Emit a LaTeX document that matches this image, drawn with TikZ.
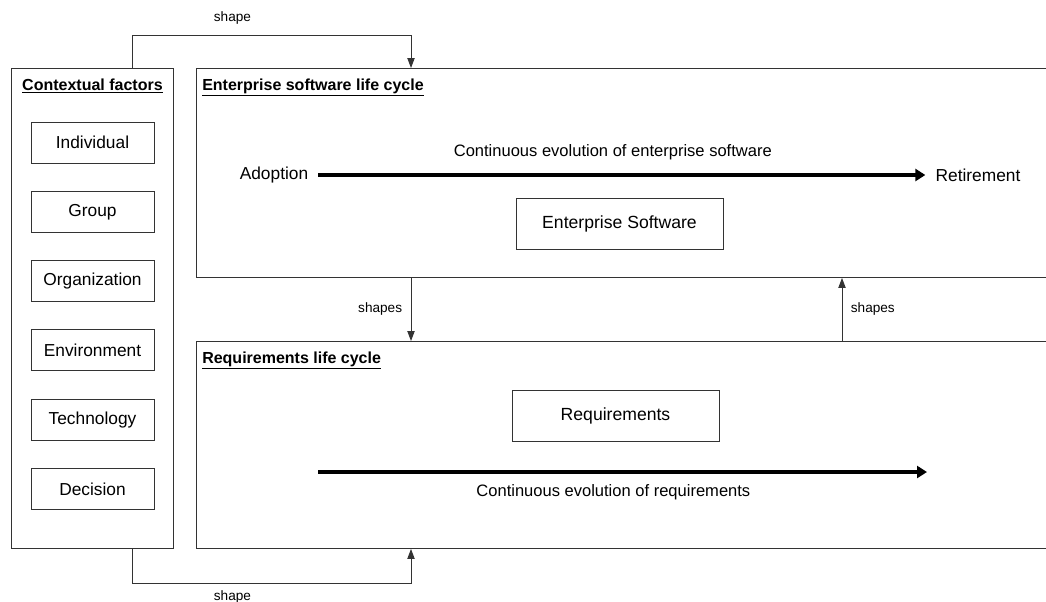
\documentclass[tikz,border=0pt]{standalone}
\usepackage{fontspec}
\setmainfont{Liberation Sans}
\usetikzlibrary{arrows.meta,positioning,calc}

\begin{document}
\begin{tikzpicture}[
    x=0.75pt, y=-0.75pt,
    node distance=20.5pt,
    frame/.style={rectangle, draw=black!80, line width=0.7pt, anchor=north west, inner sep=0pt},
    fbox/.style={rectangle, draw=black!80, line width=0.7pt, minimum width=92.25pt, minimum height=30.75pt, font=\fontsize{13}{15}\selectfont},
    sbox/.style={rectangle, draw=black!80, line width=0.7pt, minimum width=155.25pt, minimum height=38.25pt, font=\fontsize{13.2}{15}\selectfont},
    head/.style={inner sep=0pt, font=\bfseries\fontsize{12}{14}\selectfont},
    term/.style={inner xsep=7.5pt, font=\fontsize{13}{15}\selectfont},
    evotxt/.style={font=\fontsize{12.4}{14}\selectfont},
    lbl/.style={font=\fontsize{10.2}{12}\selectfont},
    conn/.style={-{Triangle[length=7.5pt,width=5.5pt]}, draw=black!80, line width=0.7pt},
    evo/.style={-{Triangle[length=7.5pt,width=9pt]}, line width=2.4pt}
]
    \useasboundingbox (0,0) rectangle (1046,601);
    \clip (0,0) rectangle (1046,601);

    % outer frames
    \node [frame, minimum width=121.5pt, minimum height=360pt] (ctx) at (11,68) {};
    \node [frame, minimum width=675pt, minimum height=156.75pt] (esl) at (196,68) {};
    \node [frame, minimum width=675pt, minimum height=155.25pt] (rlc) at (196,341) {};

    \node [head, below=8pt of ctx.north] {\underline{Contextual factors}};
    \node [head, anchor=north west, below right=8pt and 4.5pt of esl.north west] {\underline{Enterprise software life cycle}};
    \node [head, anchor=north west, below right=8pt and 4.5pt of rlc.north west] {\underline{Requirements life cycle}};

    % contextual factors
    \node [fbox] (ind) at (92.5,142.5) {Individual};
    \node [fbox, below=of ind] (grp) {Group};
    \node [fbox, below=of grp] (org) {Organization};
    \node [fbox, below=of org] (env) {Environment};
    \node [fbox, below=of env] (tech) {Technology};
    \node [fbox, below=of tech] (dec) {Decision};

    % enterprise software life cycle
    \node [term] (adopt) at (274,175) {Adoption};
    \node [term] (retire) at (978,175) {Retirement};
    \node [sbox] (soft) at (619.5,223.5) {Enterprise Software};
    \draw [evo] (adopt) -- (retire)
        node [pos=0.485, above=7pt, evotxt] {Continuous evolution of enterprise software};

    % requirements life cycle
    \node [sbox] (req) at (615.5,415.5) {Requirements};
    \coordinate (rstart) at (318,472);
    \coordinate (rend) at (927,472);
    \draw [evo] (rstart) -- (rend)
        node [pos=0.485, below=5pt, evotxt] {Continuous evolution of requirements};

    % shaping links
    \coordinate (tap) at (132,0);
    \coordinate (dn) at (411,0);
    \coordinate (up) at (842,0);
    \draw [conn] (ctx.north -| tap) -- ++(0,-33) -| (esl.north -| dn)
        node [pos=0.18, above=4pt, lbl] {shape};
    \draw [conn] (ctx.south -| tap) -- ++(0,35) -| (rlc.south -| dn)
        node [pos=0.18, below=1pt, lbl] {shape};
    \draw [conn] (esl.south -| dn) -- (rlc.north -| dn)
        node [midway, left=3pt, lbl] {shapes};
    \draw [conn] (rlc.north -| up) -- (esl.south -| up)
        node [midway, right=3pt, lbl] {shapes};
\end{tikzpicture}
\end{document}
